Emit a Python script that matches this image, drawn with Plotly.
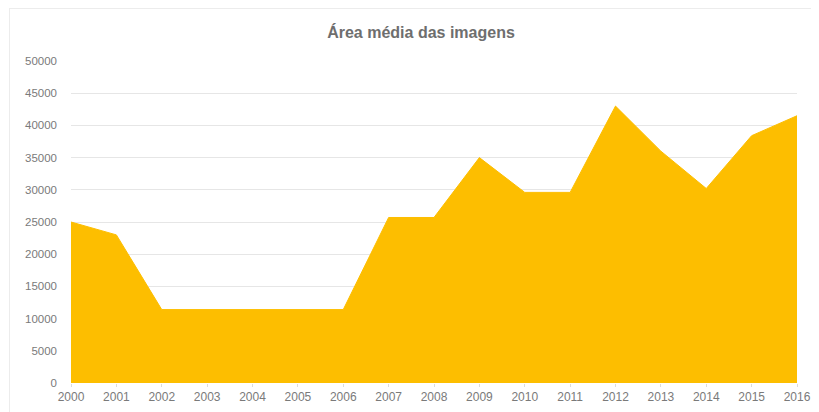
import plotly.graph_objects as go

years = [str(y) for y in range(2000, 2017)]
area = [25000, 23000, 11400, 11400, 11400, 11400, 11400, 25700, 25700, 35000,
        29600, 29600, 43000, 36000, 30200, 38400, 41500]
y_ticks = [0, 5000, 10000, 15000, 20000, 25000, 30000, 35000, 40000, 45000, 50000]
y_tick_text = [str(v) for v in y_ticks]

# The page body has an 8px default margin, so the figure is sized/offset for it.
W, H = 811, 404
L, R, T, B = 63, 22, 53, 29
PW, PH = W - L - R, H - T - B

fig = go.Figure()
fig.add_trace(go.Scatter(
    x=list(range(len(years))), y=area, mode="lines", fill="tozeroy",
    line=dict(color="#FDBE00", width=1), fillcolor="#FDBE00",
    hoverinfo="x+y", showlegend=False,
))

fig.update_layout(
    width=W, height=H,
    margin=dict(l=L, r=R, t=T, b=B, autoexpand=False),
    paper_bgcolor="white", plot_bgcolor="white",
    title=dict(text="Área média das imagens", xref="paper", x=(413 - L) / PW,
               xanchor="center", yref="container", y=1 - 24 / H, yanchor="middle",
               font=dict(family="Arial, Liberation Sans", size=16, color="#6e6e6e",
                         weight="bold")),
    font=dict(family="Arial, Liberation Sans", size=12, color="#7a7a7a"),
    xaxis=dict(
        tickmode="array", tickvals=list(range(len(years))), ticktext=years,
        range=[0, len(years) - 1], showgrid=False, zeroline=False,
        ticks="outside", ticklen=3, tickcolor="#dcdcdc", showline=False,
        tickfont=dict(size=12, color="#7a7a7a"), automargin=False,
    ),
    yaxis=dict(
        tickmode="array", tickvals=y_ticks, ticktext=y_tick_text, range=[0, 50000],
        showgrid=True, gridcolor="#e6e6e6", gridwidth=1, zeroline=False,
        tickfont=dict(size=11.5, color="#7a7a7a"), ticklabelstandoff=13,
        automargin=False,
    ),
    shapes=[
        dict(type="line", xref="paper", yref="paper",
             x0=(1 - L) / PW, x1=(W - L) / PW, y0=1 + (T - 0.5) / PH, y1=1 + (T - 0.5) / PH,
             line=dict(color="#ececec", width=1), layer="below"),
        dict(type="line", xref="paper", yref="paper",
             x0=(1.5 - L) / PW, x1=(1.5 - L) / PW, y0=-B / PH, y1=1 + T / PH,
             line=dict(color="#ececec", width=1), layer="below"),
    ],
)

fig.write_html("out.html")
